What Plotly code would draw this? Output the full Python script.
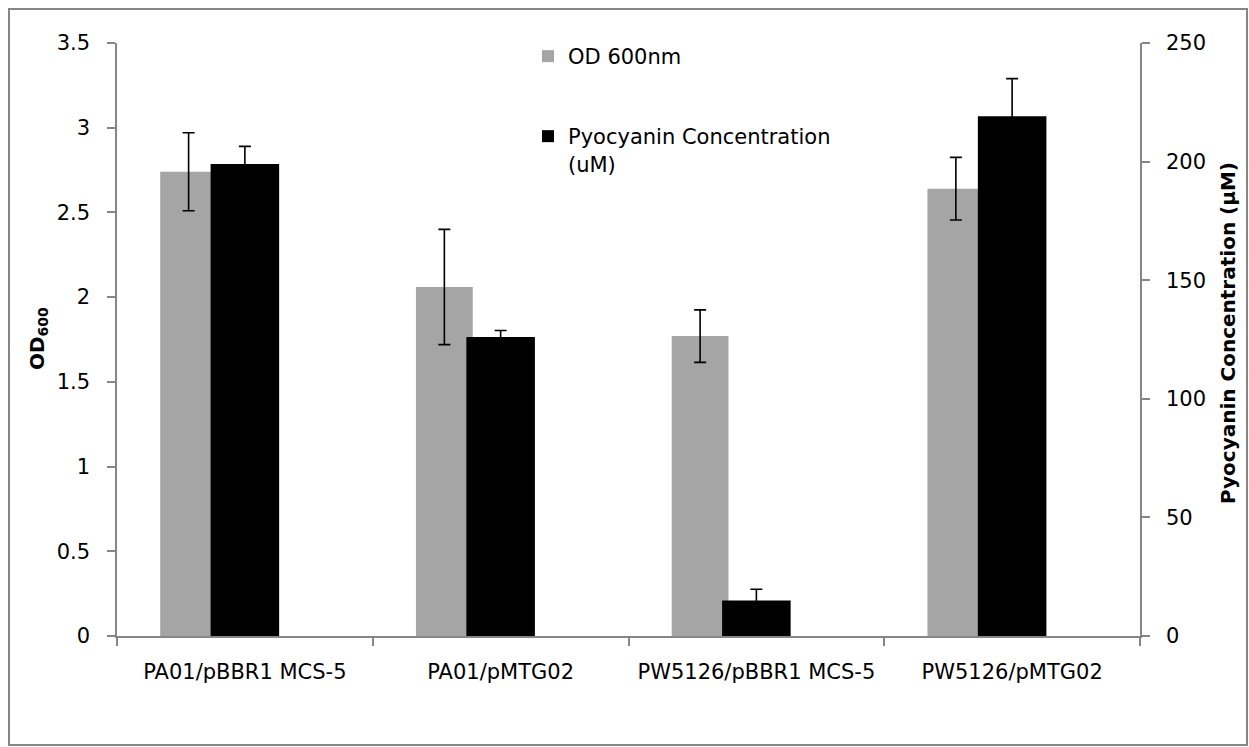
import plotly.graph_objects as go

# ---- data ----
categories = ["PA01/pBBR1 MCS-5", "PA01/pMTG02", "PW5126/pBBR1 MCS-5", "PW5126/pMTG02"]
od_values = [2.74, 2.06, 1.77, 2.64]
od_errors = [0.23, 0.34, 0.155, 0.185]
pyo_values = [199.0, 126.1, 15.0, 219.1]
pyo_errors = [7.4, 2.7, 4.7, 15.9]
left_ticks = [0, 0.5, 1, 1.5, 2, 2.5, 3, 3.5]
left_ticktext = ["0", "0.5", "1", "1.5", "2", "2.5", "3", "3.5"]
right_ticks = [0, 50, 100, 150, 200, 250]

W, H = 1249, 747
L, R, T, B = 117, 109, 43, 111
pw, ph = W - L - R, H - T - B

def px(x):
    return (x - L) / pw

def py(y):
    return (H - B - y) / ph

FONT = "DejaVu Sans"
FS = 21
AXIS_COLOR = "#868686"

fig = go.Figure()
fig.add_trace(go.Bar(
    x=categories, y=od_values, name="OD 600nm",
    marker=dict(color="#A5A5A5", line=dict(width=0)),
    width=0.222, offset=-0.331,
    error_y=dict(type="data", array=od_errors, visible=True, color="black", thickness=1.6, width=6),
    yaxis="y", legend="legend", showlegend=True,
))
fig.add_trace(go.Bar(
    x=categories, y=pyo_values, name="Pyocyanin Concentration<br>(uM)",
    marker=dict(color="#000000", line=dict(width=0)),
    width=0.268, offset=-0.134,
    error_y=dict(type="data", array=pyo_errors, visible=True, color="black", thickness=1.6, width=6),
    yaxis="y2", legend="legend2", showlegend=True,
))

fig.update_layout(
    width=W, height=H,
    margin=dict(l=L, r=R, t=T, b=B, pad=0),
    paper_bgcolor="white", plot_bgcolor="white",
    barmode="overlay", showlegend=True,
    font=dict(family=FONT, size=FS, color="black"),
    xaxis=dict(
        type="category", range=[-0.5, 3.5],
        showline=True, linecolor=AXIS_COLOR, linewidth=1.5,
        ticks="outside", tickson="boundaries", ticklen=8, tickcolor=AXIS_COLOR, tickwidth=1.5,
        showgrid=False, zeroline=False,
        tickfont=dict(family=FONT, size=FS, color="black"),
        ticklabelstandoff=16,
    ),
    yaxis=dict(
        range=[0, 3.5], tickvals=left_ticks, ticktext=left_ticktext,
        showline=True, linecolor=AXIS_COLOR, linewidth=1.5,
        ticks="outside", ticklen=8, tickcolor=AXIS_COLOR, tickwidth=1.5,
        showgrid=False, zeroline=False,
        tickfont=dict(family=FONT, size=FS, color="black"),
        ticklabelstandoff=13,
    ),
    yaxis2=dict(
        range=[0, 250], tickvals=right_ticks, overlaying="y", side="right",
        showline=True, linecolor=AXIS_COLOR, linewidth=1.5,
        ticks="outside", ticklen=8, tickcolor=AXIS_COLOR, tickwidth=1.5,
        showgrid=False, zeroline=False,
        tickfont=dict(family=FONT, size=FS, color="black"),
        ticklabelstandoff=12,
    ),
    legend=dict(
        x=px(528), y=py(36), xanchor="left", yanchor="top",
        bgcolor="rgba(0,0,0,0)", font=dict(family=FONT, size=FS, color="black"),
        itemwidth=30, valign="top",
    ),
    legend2=dict(
        x=px(528), y=py(116), xanchor="left", yanchor="top",
        bgcolor="rgba(0,0,0,0)", font=dict(family=FONT, size=FS, color="black"),
        itemwidth=30, valign="top",
    ),
    annotations=[
        dict(text="<b>OD<sub>600</sub></b>", xref="paper", yref="paper",
             x=px(38), y=py(339), textangle=-90, showarrow=False,
             xanchor="center", yanchor="middle",
             font=dict(family=FONT, size=20, color="black")),
        dict(text="<b>Pyocyanin Concentration (µM)</b>", xref="paper", yref="paper",
             x=px(1228), y=py(333), textangle=-90, showarrow=False,
             xanchor="center", yanchor="middle",
             font=dict(family=FONT, size=20, color="black")),
    ],
    shapes=[
        dict(type="rect", xref="paper", yref="paper",
             x0=px(9), x1=px(1247), y0=py(745), y1=py(9),
             line=dict(color=AXIS_COLOR, width=2), fillcolor="rgba(0,0,0,0)", layer="below"),
    ],
)

fig.write_html(
    "out.html",
    config={"displayModeBar": False},
    post_script="document.body.style.margin='0';document.body.style.overflow='hidden';",
)
